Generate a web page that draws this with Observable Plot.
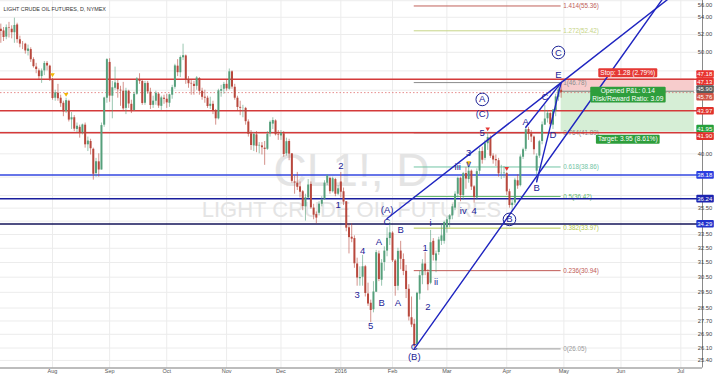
<!DOCTYPE html>
<html>
<head>
<meta charset="utf-8">
<script src="https://cdn.jsdelivr.net/npm/d3@7"></script>
<script src="https://cdn.jsdelivr.net/npm/@observablehq/plot@0.6"></script>
<style>
  html, body { margin: 0; padding: 0; background: #ffffff; }
  #chart svg { display: block; }
</style>
</head>
<body>
<div id="chart"></div>
<script>
// ================= DATA =================
const chartTitle = "LIGHT CRUDE OIL FUTURES, D, NYMEX";
const watermarkSymbol = "CL1!, D";
const watermarkName = "LIGHT CRUDE OIL FUTURES";
const firstDay = "2015-07-06";
const lastDay = "2016-08-01";
const holidays = ["2015-09-07","2015-11-26","2015-12-25","2016-01-01","2016-01-18","2016-02-15","2016-03-25","2016-05-30","2016-07-04"];

// daily bars [open, high, low, close]
const jul15 = [[56.0,56.2,52.3,52.53],[52.6,53.2,51.0,52.33],[52.4,52.8,51.2,51.65],[51.7,53.1,51.4,52.78],[52.8,53.4,51.6,52.74],[52.6,53.0,51.5,52.20],[52.2,53.9,51.0,53.04],[53.1,53.3,51.0,51.41],[51.4,51.8,50.5,50.91],[50.9,51.2,50.3,50.89],[50.9,51.0,49.8,50.15],[50.1,50.8,49.6,50.36],[50.3,50.5,48.9,49.19],[49.2,49.4,48.3,48.45],[48.4,48.8,47.7,48.14],[48.0,48.2,47.0,47.39],[47.4,48.2,46.7,47.98],[48.0,49.0,47.5,48.79],[48.8,49.0,48.0,48.52],[48.5,48.6,46.9,47.12]];
const aug15 = [[47.1,47.2,45.0,45.17],[45.2,46.0,44.9,45.74],[45.7,46.6,44.9,45.15],[45.2,45.5,44.3,44.66],[44.7,44.9,43.4,43.87],[43.9,45.2,43.7,44.96],[44.9,45.0,42.9,43.08],[43.1,43.8,42.2,43.30],[43.3,43.5,42.0,42.23],[42.2,42.8,41.9,42.50],[42.4,42.6,41.4,41.87],[41.9,42.7,41.7,42.62],[42.6,42.8,40.5,40.80],[40.8,41.5,40.2,41.14],[41.1,41.3,39.9,40.45],[40.4,40.5,37.75,38.24],[38.3,39.6,38.0,39.31],[39.3,40.0,38.0,38.60],[38.6,42.8,38.6,42.56],[42.6,45.3,42.4,45.22],[45.2,49.3,44.7,49.20]];
const sep15 = [[48.9,49.3,44.8,45.41],[45.4,46.9,43.2,46.25],[46.2,48.4,46.0,46.75],[46.7,47.0,45.2,46.05],[46.0,46.4,44.4,45.94],[45.9,46.8,44.0,44.15],[44.2,46.2,43.6,45.92],[45.9,46.0,44.2,44.63],[44.6,45.0,43.7,44.00],[44.0,45.8,43.9,45.59],[45.6,47.3,45.5,47.15],[47.1,47.7,46.6,46.90],[46.9,47.0,44.5,44.68],[44.7,46.9,44.5,46.68],[46.7,46.9,45.6,45.83],[45.8,46.2,44.1,44.48],[44.5,45.4,44.2,44.91],[44.9,45.9,44.5,45.70],[45.6,45.7,44.2,44.43],[44.4,45.4,44.0,45.23],[45.2,45.5,44.6,45.09]];
const oct15 = [[45.1,45.6,44.2,44.74],[44.7,45.6,44.3,45.54],[45.5,46.5,45.1,46.26],[46.3,48.7,46.1,48.53],[48.5,49.2,47.4,47.81],[47.8,49.6,47.3,49.43],[49.4,50.9,49.1,49.63],[49.6,49.7,46.6,47.10],[47.1,47.4,46.2,46.66],[46.7,47.0,45.5,46.64],[46.6,46.9,45.5,46.38],[46.4,47.4,46.0,47.26],[47.2,47.3,45.5,45.89],[45.9,46.2,45.0,45.29],[45.3,46.0,44.7,45.20],[45.2,45.4,44.2,44.38],[44.4,45.3,44.1,44.60],[44.6,44.9,43.6,43.98],[44.0,44.1,42.6,43.20],[43.2,46.1,43.1,45.94],[45.9,46.5,45.3,46.06],[46.1,46.8,45.6,46.59]];
const nov15 = [[46.6,47.0,45.9,46.14],[46.1,48.2,46.0,47.90],[47.9,48.0,46.1,46.32],[46.3,46.6,45.0,45.20],[45.2,45.4,43.9,44.29],[44.3,44.9,43.5,44.21],[44.2,44.5,43.3,44.21],[44.2,44.3,42.6,42.93],[42.9,43.1,41.5,41.75],[41.8,42.1,40.3,40.74],[40.7,41.9,40.2,41.74],[41.7,42.0,40.1,40.67],[40.7,41.0,40.0,40.75],[40.7,41.0,39.9,40.54],[40.5,41.1,39.0,40.39],[40.4,42.0,40.3,41.75],[41.8,43.0,41.5,42.87],[42.7,43.3,42.2,43.04],[43.0,43.1,41.6,41.71],[41.7,42.1,41.2,41.65]];
const dec15 = [[41.6,42.1,41.2,41.85],[41.8,42.0,39.7,39.94],[40.0,41.4,39.8,41.08],[41.1,41.3,39.4,39.97],[40.0,40.0,37.5,37.65],[37.6,38.1,36.6,37.51],[37.5,38.4,36.9,37.16],[37.2,37.6,36.3,36.76],[36.8,36.9,35.3,35.62],[35.6,36.6,34.5,36.31],[36.3,37.8,36.2,37.35],[37.4,37.6,35.4,35.52],[35.5,35.8,34.6,34.95],[35.0,35.2,34.3,34.73],[35.1,36.0,34.9,35.81],[35.8,36.4,35.6,36.14],[36.2,37.7,36.1,37.50],[37.5,38.2,37.3,38.10],[37.9,38.0,36.6,36.81],[36.8,38.0,36.7,37.87],[37.8,37.9,36.4,36.60],[36.6,37.3,36.5,37.04]];
const jan16 = [[37.6,38.39,36.3,36.76],[36.8,37.1,35.7,35.97],[36.0,36.0,33.7,33.97],[34.0,34.3,32.1,33.27],[33.3,34.3,32.9,33.16],[33.2,33.4,31.1,31.41],[31.4,31.8,29.9,30.44],[30.4,31.2,29.9,30.48],[30.5,32.0,29.9,31.20],[31.2,31.3,29.2,29.42],[29.4,30.1,28.6,28.75],[28.8,29.0,27.6,28.35],[28.4,30.2,28.2,29.53],[29.5,32.35,29.5,32.19],[32.1,32.3,30.2,30.34],[30.3,31.7,29.9,31.45],[31.5,32.6,30.9,32.30],[32.3,34.0,31.9,33.22],[33.2,34.4,32.7,33.62]];
const feb16 = [[33.6,33.7,31.5,31.62],[31.6,31.7,29.25,29.88],[29.9,32.5,29.6,32.28],[32.3,33.0,31.0,31.72],[31.7,32.1,30.6,30.89],[30.9,31.3,29.1,29.69],[29.7,30.0,27.7,27.94],[27.9,29.2,27.3,27.45],[27.5,27.8,26.05,26.21],[26.3,29.5,26.3,29.44],[29.4,30.9,29.0,30.6],[30.6,31.7,30.0,31.4],[31.4,32.2,30.6,30.9],[30.8,31.0,29.6,30.0],[30.1,33.8,30.0,32.9],[33.0,33.2,31.6,32.0],[31.6,32.3,30.8,32.1],[32.2,33.3,32.0,33.1],[33.0,34.2,32.7,33.4],[33.0,34.5,32.8,34.4]];
const mar16 = [[34.0,34.8,33.6,34.6],[34.6,35.0,34.0,34.9],[34.9,35.8,34.6,35.6],[35.5,36.8,35.3,36.6],[36.6,38.0,36.3,37.9],[37.9,38.0,36.0,36.5],[36.5,38.4,36.1,38.29],[38.3,38.8,37.0,37.84],[37.8,38.9,37.5,38.50],[38.5,38.6,36.9,37.18],[37.2,37.3,35.9,36.34],[36.3,38.7,36.1,38.46],[38.5,40.5,38.2,40.20],[40.2,40.6,39.1,39.44],[39.6,41.2,39.4,40.9],[40.9,41.9,40.3,41.45],[41.4,41.6,39.6,39.79],[39.8,40.0,39.1,39.46],[39.5,39.9,38.9,39.39],[39.4,39.6,38.0,38.28],[38.3,39.0,37.8,38.32],[38.3,38.9,37.9,38.34]];
const apr16 = [[38.3,38.4,36.5,36.79],[36.8,37.0,35.5,35.70],[35.7,36.1,35.24,35.89],[35.9,37.9,35.7,37.75],[37.7,38.2,37.0,37.26],[37.3,39.9,37.2,39.72],[39.7,40.5,39.5,40.36],[40.4,42.4,40.2,42.17],[42.2,42.4,41.2,41.76],[41.8,42.1,41.0,41.50],[41.5,41.6,39.9,40.36],[38.5,40.0,37.61,39.78],[39.8,41.2,39.6,41.08],[41.1,42.9,40.8,42.63],[42.6,44.5,42.6,43.18],[43.2,44.0,42.8,43.73],[43.7,43.8,42.5,42.64],[42.6,44.1,42.2,44.04],[44.0,45.6,43.4,45.33],[45.3,46.55,44.9,46.03],[46.0,46.78,45.2,45.76]];

// time axis
const monthKeys = ["2015-08","2015-09","2015-10","2015-11","2015-12","2016-01","2016-02","2016-03","2016-04","2016-05","2016-06","2016-07"];
const monthLabels = ["Aug","Sep","Oct","Nov","Dec","2016","Feb","Mar","Apr","May","Jun","Jul"];
// price axis
const yTicks = [56, 54, 52, 50, 48, 46, 44, 42, 40, 38, 36.5, 35.5, 34.5, 33.5, 32.5, 31.5, 30.5, 29.5, 28.5, 27.7, 26.9, 26.1, 25.4];

// horizontal levels
const redLevels = [47.13, 43.97, 41.90];
const blueLevels = [38.18, 36.24, 34.29];
const lastPrice = 45.76;

// fibonacci retracement (from 26.05 low to 46.78 high)
const fibRatios = ["1.414", "1.272", "1", "0.764", "0.618", "0.5", "0.382", "0.236", "0"];
const fibPrices = [55.36, 52.42, 46.78, 41.89, 38.86, 36.42, 33.97, 30.94, 26.05];
const fibFrom = "2016-02-11", fibTo = "2016-04-29";

// trend lines: [date1, price1, date2, price2, extend-to date]
const trendLines = [
  ["2016-01-28", 34.70, "2016-04-29", 46.78, "2016-07-29"],
  ["2016-02-11", 26.05, "2016-05-19", 46.20, "2016-07-29"],
  ["2016-04-12", 42.40, "2016-04-29", 46.78, null],
  ["2016-04-18", 37.61, "2016-04-29", 46.78, null]
];

// Elliott wave labels [text, date, price]
const waveLabels = [
  ["1","2015-12-31",35.71],["2","2016-01-04",38.91],["(A)","2016-01-28",35.32],["C","2016-01-28",34.40],
  ["B","2016-02-04",33.87],["A","2016-01-25",32.99],["4","2016-01-14",32.28],["3","2016-01-12",29.36],
  ["B","2016-01-26",28.79],["A","2016-02-03",28.79],["5","2016-01-20",27.37],["C","2016-02-11",26.19],
  ["(B)","2016-02-11",25.57],["1","2016-02-18",32.49],["2","2016-02-19",28.54],["i","2016-02-22",34.33],
  ["ii","2016-02-24",30.15],["iii","2016-03-07",38.82],["iv","2016-03-09",35.25],["v","2016-03-11",39.08],
  ["3","2016-03-11",40.12],["4","2016-03-15",35.25],["5","2016-03-18",41.92],["(C)","2016-03-18",43.71],
  ["A","2016-04-12",42.86],["B","2016-04-18",37.07],["C","2016-04-21",45.28],["D","2016-04-26",41.65],
  ["E","2016-04-28",47.52]
];
const circledLabels = [["A","2016-03-18",45.08],["B","2016-04-04",34.63],["C","2016-04-28",49.98]];

// event markers [date, kind]
const eventMarkers = [["2015-08-03","a"],["2015-08-10","a"],["2016-03-11","a"],["2016-03-22","b"],["2016-04-01","b"]];

// short position tool
const posFrom = "2016-04-29", posTo = "2016-07-11";
const posEntry = 45.90, posStop = 47.18, posTarget = 41.95;
const stopText = "Stop: 1.28 (2.79%)";
const pnlText = "Opened P&L: 0.14\nRisk/Reward Ratio: 3.09";
const targetText = "Target: 3.95 (8.61%)";

// price tags on the axis
const tagPrices = [47.18, 47.13, 45.90, 45.76, 43.97, 41.95, 41.90, 38.18, 36.24, 34.29];

// ================= STYLE =================
const FONT = "Liberation Sans, Arial, Helvetica, sans-serif";
const UP = "#56a07c", DOWN = "#b8483d";
const WAVE = "#1d2396";
const fibColor = {"1.414":"#c0605a","1.272":"#c6d486","1":"#8c8c8c","0.764":"#8a8a8a","0.618":"#72c4a4","0.5":"#62b86a","0.382":"#b4c84e","0.236":"#c05a55","0":"#9a9a9a"};
const blueColor = ["#3347e0", "#1a1f9e", "#15155a"];
const tagColors = ["#e8322e","#e8322e","#5a5a5a","#cf5446","#e0312b","#25a03c","#e0312b","#2b3fe0","#1d24b0","#2233cc"];
const markerColor = {a: "#f2b705", b: "#e53935"};

// ================= BUILD =================
const W = 720, H = 376, MR = 18, MB = 8.5;
const parse = d3.utcParse("%Y-%m-%d");
const fmt = d3.utcFormat("%Y-%m-%d");
const hol = new Set(holidays);
const days = d3.utcDay.range(parse(firstDay), parse(lastDay))
  .filter(d => d.getUTCDay() % 6 !== 0 && !hol.has(fmt(d)));
const idx = new Map(days.map((d, i) => [fmt(d), i]));
const I = s => idx.get(s);

const monthRows = [["2015-07", jul15],["2015-08", aug15],["2015-09", sep15],["2015-10", oct15],["2015-11", nov15],
  ["2015-12", dec15],["2016-01", jan16],["2016-02", feb16],["2016-03", mar16],["2016-04", apr16]];
const candles = [];
monthRows.forEach(([m, rows]) => {
  const md = days.filter(d => fmt(d).startsWith(m));
  rows.forEach((r, j) => candles.push({i: I(fmt(md[j])), o: r[0], h: r[1], l: r[2], c: r[3], up: r[3] >= r[0]}));
});
const hiByIdx = new Map(candles.map(d => [d.i, d.h]));

// scales calibration (bar spacing 2.72px, Aug 3 at 52px; log price scale)
const pxPerBar = 2.72, augX = 52;
const xDomain = [I("2015-08-03") - augX / pxPerBar, I("2015-08-03") + (W - MR - augX) / pxPerBar];
const yDomain = [24.98, 56.03];
const yPx = d3.scaleLog().domain(yDomain).range([H - MB, 0]);

const monthTicks = monthKeys.map((m, k) => ({i: days.findIndex(d => fmt(d).startsWith(m)), label: monthLabels[k]}));

const trendPts = [];
trendLines.forEach(([d1, p1, d2, p2, ext], k) => {
  const i1 = I(d1), i2 = I(d2);
  trendPts.push({k, i: i1, p: p1}, {k, i: i2, p: p2});
  if (ext) {
    const i3 = I(ext);
    trendPts.push({k, i: i3, p: Math.exp(Math.log(p1) + (Math.log(p2) - Math.log(p1)) * (i3 - i1) / (i2 - i1))});
  }
});

const fibRows = fibRatios.map((r, k) => ({r, p: fibPrices[k], label: `${r}(${fibPrices[k].toFixed(2)})`}));
const waveRows = waveLabels.map(([t, d, p]) => ({t, i: I(d), p}));
const circRows = circledLabels.map(([t, d, p]) => ({t, i: I(d), p}));
const markerRows = eventMarkers.map(([d, kind]) => ({i: I(d), p: hiByIdx.get(I(d)), kind}));

// dodge overlapping axis tags
function dodge(ys, gap) {
  const order = d3.range(ys.length).sort((a, b) => ys[a] - ys[b]);
  let clusters = order.map(i => ({items: [i], center: ys[i]}));
  let changed = true;
  while (changed) {
    changed = false;
    for (let k = 0; k < clusters.length - 1; k++) {
      const a = clusters[k], b = clusters[k + 1];
      const aBottom = a.center + (a.items.length - 1) * gap / 2;
      const bTop = b.center - (b.items.length - 1) * gap / 2;
      if (bTop - aBottom < gap) {
        const items = a.items.concat(b.items);
        clusters.splice(k, 2, {items, center: d3.mean(items, i => ys[i])});
        changed = true; break;
      }
    }
  }
  const out = new Array(ys.length);
  clusters.forEach(c => c.items.forEach((i, j) => out[i] = c.center + (j - (c.items.length - 1) / 2) * gap));
  return out;
}
const tagY = dodge(tagPrices.map(p => yPx(p)), 7.6);
const tagRows = tagPrices.map((p, k) => ({p: yPx.invert(tagY[k]), t: p.toFixed(2), bg: tagColors[k]}));
const tickRows = yTicks.map(v => ({v, y: Math.max(yPx(v), 5)}))
  .filter(t => tagY.every(ty => Math.abs(ty - t.y) > 7))
  .map(t => ({p: yPx.invert(t.y), t: t.v.toFixed(2)}));

const pos = [{x1: I(posFrom), x2: I(posTo)}];
const posMid = (I(posFrom) + I(posTo)) / 2;

const svg = Plot.plot({
  width: W, height: H,
  marginLeft: 0, marginRight: MR, marginTop: 0, marginBottom: MB,
  x: {domain: xDomain, axis: null},
  y: {type: "log", domain: yDomain, axis: null},
  color: {type: "identity"},
  style: {fontFamily: FONT, background: "#ffffff", overflow: "visible"},
  marks: [
    // grid
    Plot.ruleX(monthTicks, {x: "i", stroke: "#ececec", strokeWidth: 1}),
    Plot.ruleY(yTicks, {stroke: "#ececec", strokeWidth: 1}),
    // watermark
    Plot.text([watermarkSymbol], {frameAnchor: "middle", dy: -13, fontSize: 46, fill: "#e4e4e4"}),
    Plot.text([watermarkName], {frameAnchor: "middle", dy: 26, fontSize: 22, fill: "#e4e4e4"}),
    // position boxes
    Plot.rect(pos, {x1: "x1", x2: "x2", y1: posEntry, y2: posStop, fill: "#f7cccc"}),
    Plot.rect(pos, {x1: "x1", x2: "x2", y1: posTarget, y2: posEntry, fill: "#d6eed6"}),
    Plot.ruleY([posEntry], {x1: I(posFrom), x2: I(posTo), stroke: "#7d7d7d", strokeWidth: 1}),
    // fibonacci
    Plot.ruleY(fibRows, {y: "p", x1: I(fibFrom), x2: I(fibTo), stroke: d => fibColor[d.r], strokeWidth: 1}),
    Plot.text(fibRows, {x: I(fibTo), y: "p", text: "label", textAnchor: "start", dx: 2, fontSize: 6.3, fill: d => fibColor[d.r]}),
    // horizontal levels
    Plot.ruleY([lastPrice], {stroke: "#e07070", strokeWidth: 0.8, strokeDasharray: "1.5,2"}),
    Plot.ruleY(redLevels, {stroke: "#d43a3a", strokeWidth: 1.5}),
    Plot.ruleY(blueLevels, {stroke: (d, k) => blueColor[k], strokeWidth: 1.5}),
    // candles
    Plot.ruleX(candles, {x: "i", y1: "l", y2: "h", stroke: d => d.up ? UP : DOWN, strokeOpacity: 0.75, strokeWidth: 0.8, clip: true}),
    Plot.ruleX(candles, {x: "i", y1: "o", y2: "c", stroke: d => d.up ? UP : DOWN, strokeWidth: 2, clip: true}),
    Plot.dot(markerRows, {x: "i", y: "p", dy: -4, symbol: "triangle", r: 1.7, rotate: 180, fill: d => markerColor[d.kind], stroke: null}),
    // trend lines
    Plot.line(trendPts, {x: "i", y: "p", z: "k", stroke: "#1f25c0", strokeWidth: 1.4, clip: true}),
    // Elliott wave labels
    Plot.dot(circRows, {x: "i", y: "p", r: 6.3, stroke: WAVE, strokeWidth: 1, fill: "none"}),
    Plot.text(circRows, {x: "i", y: "p", text: "t", fontSize: 9.5, fill: WAVE}),
    Plot.text(waveRows, {x: "i", y: "p", text: "t", fontSize: 9.5, fill: WAVE}),
    // position labels
    Plot.text([stopText], {x: posMid, y: posStop, dy: -6, fontSize: 6.6, fill: "#ffffff"}),
    Plot.text([pnlText], {x: posMid, y: posEntry, dy: 3.5, fontSize: 6.6, lineHeight: 1.15, fill: "#ffffff"}),
    Plot.text([targetText], {x: posMid, y: posTarget, dy: 7, fontSize: 6.6, fill: "#ffffff"}),
    // title
    Plot.text([chartTitle], {frameAnchor: "top-left", dx: 3, dy: 6.5, fontSize: 5.4, fill: "#333333", textAnchor: "start"}),
    // axes
    Plot.ruleY([yDomain[0]], {stroke: "#7a7a7a", strokeWidth: 1}),
    Plot.ruleX([xDomain[1]], {stroke: "#8a8a8a", strokeWidth: 1}),
    Plot.text(monthTicks, {x: "i", text: "label", frameAnchor: "bottom", dy: 5, fontSize: 5.5, fill: "#555555"}),
    Plot.text(tickRows, {y: "p", text: "t", frameAnchor: "right", dx: 9.75, fontSize: 5.8, fill: "#444444"}),
    Plot.text(tagRows, {y: "p", text: "t", frameAnchor: "right", dx: 9.75, fontSize: 6, fill: "#ffffff"})
  ]
});
document.getElementById("chart").append(svg);

// label backgrounds
const bgSpecs = new Map();
tagRows.forEach(r => bgSpecs.set(r.t, {fill: r.bg, w: 17.5, h: 7.6}));
bgSpecs.set(stopText, {fill: "#e53935", px: 2, py: 0.5});
bgSpecs.set(pnlText.replace("\n", ""), {fill: "#2e9e3c", px: 2, py: 0.5});
bgSpecs.set(targetText, {fill: "#2e9e3c", px: 2, py: 0.5});
d3.select(svg).selectAll("text").each(function () {
  const spec = bgSpecs.get(this.textContent);
  if (!spec) return;
  const b = this.getBBox();
  const w = spec.w ?? b.width + 2 * spec.px;
  const h = spec.h ?? b.height + 2 * spec.py;
  const r = document.createElementNS("http://www.w3.org/2000/svg", "rect");
  r.setAttribute("x", b.x + b.width / 2 - w / 2);
  r.setAttribute("y", b.y + b.height / 2 - h / 2);
  r.setAttribute("width", w);
  r.setAttribute("height", h);
  r.setAttribute("rx", 1);
  r.setAttribute("fill", spec.fill);
  r.setAttribute("stroke", "none");
  const tr = this.getAttribute("transform");
  if (tr) r.setAttribute("transform", tr);
  this.parentNode.insertBefore(r, this);
});
</script>
</body>
</html>
